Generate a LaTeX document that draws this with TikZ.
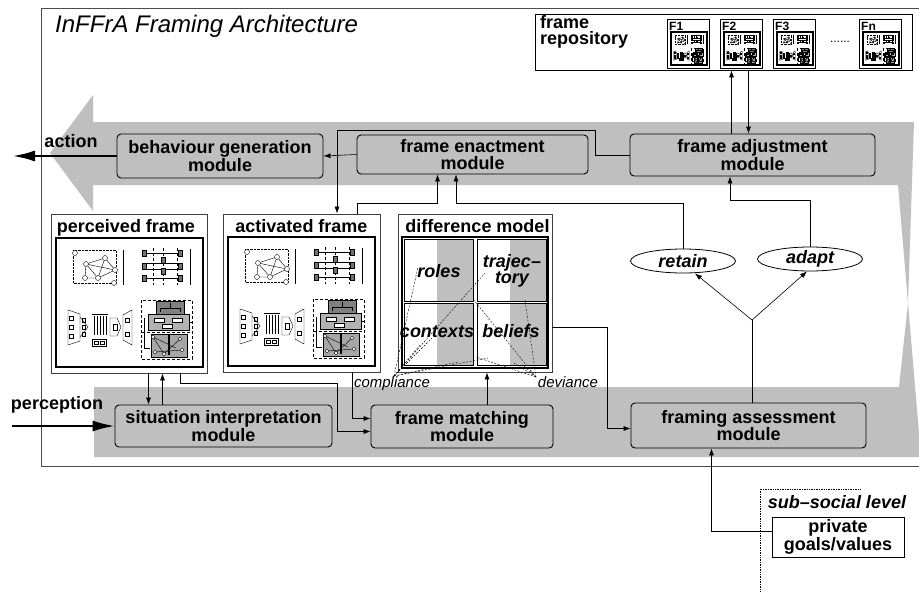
\documentclass[tikz,border=0pt]{standalone}
\usepackage{fontspec}
\setmainfont{Liberation Sans}
\usetikzlibrary{arrows.meta,shapes.geometric}

\tikzset{
  framepic/.pic={
    % network
    \draw[densely dotted] (17,12) rectangle (60,45);
    \draw (30,26) -- (49,20) -- (59,32) -- (42,40) -- (29,40) -- cycle
          (30,26) -- (59,32) (49,20) -- (42,40) (30,26) -- (42,40);
    \foreach \p in {(19,15),(30,26),(49,20),(59,32),(42,40),(29,40),(58,45)}
      \draw[fill=white] \p circle[radius=2.5];
    \draw[line width=0.8pt] (67,12) -- (67,47);
    % bars
    \draw[densely dashed] (97,10) -- (97,47) (107,10) -- (107,47) (121,10) -- (121,47);
    \draw[line width=1pt] (88,15) -- (124,15) (88,25) -- (124,25) (88,31) -- (124,31) (88,40) -- (124,40);
    \foreach \x/\y in {88/15,124/15,107/22,88/28,124/28,107/33,88/40,124/40}
      \filldraw[fill=black!55] (\x-2,\y-3) rectangle (\x+2,\y+3);
    \draw[line width=0.8pt] (134,11) -- (134,47);
    % funnel
    \draw (12,72) -- (24,76) -- (24,103) -- (12,107) -- cycle;
    \foreach \y in {80,89,98} \draw (13,\y-2) rectangle (17,\y+2);
    \draw (24,79) -- (32,89) -- (24,99);
    \foreach \y in {82,89,96} \draw (26,\y-2) rectangle (29,\y+2);
    \draw[line width=1pt] (36,76) -- (52,76);
    \foreach \x in {38,41,44,47,50} \draw (\x,78) -- (\x,97);
    \draw (54,80) -- (61,80) -- (65,89) -- (61,98) -- (54,98) -- cycle;
    \draw (57,86) rectangle (61,92);
    \draw (67,77) -- (76,72) -- (76,107) -- (67,102) -- cycle;
    \foreach \y in {82,96} \draw (69,\y-2) rectangle (73,\y+2);
    \draw (36,101) rectangle (50,108) (38,103) rectangle (42,106) (44,103) rectangle (48,106);
    % nested boxes
    \draw[densely dashed] (85,62) rectangle (136,121);
    \filldraw[fill=black!50] (100,63) rectangle (128,76);
    \filldraw[fill=black!30] (92,76) rectangle (133,92);
    \draw (114,65) -- (114,70) (104,70) -- (124,70) (104,70) -- (104,74) (124,70) -- (124,74);
    \draw[fill=white] (98,80) rectangle (108,84) (116,80) rectangle (126,84) (106,86) rectangle (116,90);
    \draw[densely dashed] (86,94) -- (135,94);
    \filldraw[fill=black!35] (95,96) rectangle (131,119);
    \draw[line width=2pt] (113,97) -- (113,117);
    \draw (97,99) -- (108,116) -- (124,101) (99,114) -- (126,112) (97,99) -- (120,110);
    \foreach \p in {(97,99),(108,116),(124,101),(99,114),(126,112)}
      \draw[fill=white] \p circle[radius=1.8];
    \draw (88,80) -- (88,110) -- (94,110) (133,84) -- (136,84);
  }
}

\begin{document}
\begin{tikzpicture}[x=1pt,y=-1pt,
    module/.style={draw,rounded corners=4pt,fill=black!25,line width=0.9pt,inner sep=0pt,
      align=center,font=\bfseries\fontsize{18}{16.5}\selectfont},
    framebox/.style={draw=black!75,line width=0.9pt,inner sep=0pt},
    lbl/.style={font=\bfseries\fontsize{18}{16.5}\selectfont,inner sep=0pt},
    cell/.style={font=\bfseries\itshape\fontsize{18}{16.5}\selectfont,inner sep=0pt,align=center},
    choice/.style={draw,ellipse,line width=0.8pt,minimum width=105pt,minimum height=24pt,inner sep=0pt,
      font=\bfseries\itshape\fontsize{18}{15}\selectfont},
    note/.style={font=\itshape\fontsize{15}{15}\selectfont,inner sep=0pt},
    conn/.style={-{Latex[length=7pt,width=5pt]},line width=0.6pt},
    bigarrow/.style={-{Latex[length=22pt,width=11pt]},line width=2pt},
    hint/.style={dash pattern=on 2pt off 1.5pt,line width=0.4pt}]
  \useasboundingbox (0,0) rectangle (919,592);
  \clip (0,0) rectangle (919,592);
  \fill[white] (0,0) rectangle (919,592);

  % flow band
  \fill[black!25] (50,153) -- (93,95) -- (93,122) -- (914,122) -- (908,303) -- (921,457)
    -- (94,457) -- (94,387) -- (899,387) -- (908,303) -- (898,185) -- (93,185) -- (93,211) -- cycle;
  \draw[black!70,line width=0.8pt] (41,8) rectangle (935,466);
  \node[font=\itshape\fontsize{24}{24}\selectfont,inner sep=0pt,anchor=base west] (title) at (55,32)
    {InFFrA Framing Architecture};

  % modules
  \node[module,minimum width=206pt,minimum height=44pt] (behave) at (220,156) {behaviour generation\\module};
  \node[module,minimum width=231pt,minimum height=39pt] (enact) at (472.5,154.5) {frame enactment\\module};
  \node[module,minimum width=245pt,minimum height=42pt] (adjust) at (752.5,155) {frame adjustment\\module};
  \node[module,minimum width=217pt,minimum height=42pt] (situation) at (223.5,426) {situation interpretation\\module};
  \node[module,minimum width=182pt,minimum height=43pt] (matching) at (462,426.5) {frame matching\\module};
  \node[module,minimum width=235pt,minimum height=45pt] (assess) at (748.5,425.5) {framing assessment\\module};

  \node[lbl,anchor=base] (actionlbl) at (71,147) {action};
  \node[lbl,anchor=base] (perceptlbl) at (57,409) {perception};
  \coordinate (actionend) at (13,156);
  \coordinate (perceptstart) at (12,426);

  % repository
  \node[draw,line width=0.8pt,minimum width=377pt,minimum height=56pt,inner sep=0pt] (repo) at (723.5,42) {};
  \node[lbl,anchor=north west,align=left] (repolbl) at (540,15) {frame\\repository};
  \foreach \x/\n in {667/1,720/2,773/3,859/n}{
    \node[draw,line width=0.8pt,minimum width=42pt,minimum height=49pt,inner sep=0pt] (f\n) at (\x+21,43.5) {};
    \node[font=\bfseries\fontsize{12}{12}\selectfont,anchor=base west,inner sep=0pt] (f\n-lbl) at (\x+2,30) {F\n};
    \draw[line width=1.2pt] (\x+4,32) rectangle (\x+40,65);
    \pic[xscale=.24,yscale=.264] at (\x+4,32) {framepic};
  }
  \node[font=\fontsize{12}{12}\selectfont,inner sep=0pt] (fdots) at (840,42) {......};

  % frames
  \node[framebox,minimum width=156pt,minimum height=159pt] (percframe) at (129,293.5) {};
  \node[lbl,anchor=base] (perctitle) at (126,232) {perceived frame};
  \draw[line width=1.6pt] (56,238) rectangle (203,367);
  \pic at (56,238) {framepic};
  \node[framebox,minimum width=157pt,minimum height=158pt] (actframe) at (301.5,293) {};
  \node[lbl,anchor=base] (acttitle) at (301.5,232) {activated frame};
  \draw[line width=1.6pt] (228,237) rectangle (375,366);
  \pic at (228,237) {framepic};

  % difference model
  \node[framebox,minimum width=154pt,minimum height=158pt] (diffframe) at (475,293) {};
  \node[lbl,anchor=base] (difftitle) at (477.5,232) {difference model};
  \draw[line width=1.6pt] (402,237) rectangle (548,368);
  \foreach \x/\y in {404/239,477/239,404/303,477/303}{
    \fill[black!25] (\x+33,\y) rectangle (\x+69,\y+62);
    \draw[line width=0.9pt] (\x,\y) rectangle (\x+69,\y+62);
  }
  \node[cell,anchor=base] (roles) at (439,277) {roles};
  \node[cell] (trajectory) at (512,271) {trajec–\\tory};
  \node[cell,anchor=base] (contexts) at (437,337) {contexts};
  \node[cell,anchor=base] (beliefs) at (511,337) {beliefs};
  \node[note,anchor=base] (compl) at (392,387) {compliance};
  \node[note,anchor=base] (devi) at (568,387) {deviance};
  \coordinate (cpl) at (394,376);
  \coordinate (dev) at (536,377);
  \foreach \p in {(418,267),(485,273),(420,345),(432,338),(458,362),(488,358)}
    \draw[hint] (cpl) -- \p;
  \foreach \p in {(473,299),(476,357),(525,300),(514,363),(524,366)}
    \draw[hint] (dev) -- \p;

  % assessment outcome
  \node[choice] (retain) at (683,261) {retain};
  \node[choice] (adapt) at (810,259) {adapt};

  % sub-social level
  \draw[densely dotted,line width=0.7pt] (760,600) |- (860,489);
  \node[lbl,font=\bfseries\itshape\fontsize{18}{15}\selectfont,anchor=base] (subsocial) at (837,508) {sub–social level};
  \node[draw,line width=0.9pt,minimum width=132pt,minimum height=40pt,inner sep=0pt,align=center,
    font=\bfseries\fontsize{18}{16.5}\selectfont] (private) at (838,537) {private\\goals/values};

  % connectors
  \coordinate (j1) at (595,130);
  \coordinate (j2) at (337,130);
  \coordinate (j3) at (357,203);
  \coordinate (j4) at (456,203);
  \coordinate (j5) at (730,200);
  \coordinate (r1) at ([xshift=-21pt]adjust.north);
  \coordinate (r2) at ([xshift=-4pt]adjust.north);
  \coordinate (s1) at ([xshift=-75pt]situation.north);
  \coordinate (s2) at ([xshift=-61pt]situation.north);
  \coordinate (m1) at ([xshift=51pt]percframe.south);
  \coordinate (m2) at ([xshift=25pt]matching.north);
  \coordinate (k1) at (337,383);
  \coordinate (k2) at (607,327);
  \coordinate (fork) at (752,320);

  \draw[bigarrow] (behave.west) -- (actionend);
  \draw[bigarrow] (perceptstart) -- (situation.west);
  \draw[conn] (enact.west) -- (behave.east);
  \draw[conn] (adjust.west) -| (j1) -- (j2) -- (j2 |- actframe.north);
  \draw[conn] (j3 |- actframe.north) -- (j3) -| ([xshift=-35pt]enact.south);
  \draw[conn] (retain.north) |- (j4) -- (j4 |- enact.south);
  \draw[conn] (adapt.north) |- (j5) -- (j5 |- adjust.south);
  \draw[conn] (r1) -- (r1 |- repo.south);
  \draw[conn] (r2 |- repo.south) -- (r2);
  \draw[conn] (s1 |- percframe.south) -- (s1);
  \draw[conn] (s2) -- (s2 |- percframe.south);
  \draw[conn] (m1) |- (k1) |- ([yshift=-5pt]matching.west);
  \draw[conn] ([xshift=51pt]actframe.south) |- ([yshift=8pt]matching.west);
  \draw[conn] (m2) -- (m2 |- diffframe.south);
  \draw[conn] (diffframe.east |- k2) -- (k2) |- ([yshift=-3pt]assess.west);
  \draw[line width=0.6pt] (fork |- assess.north) -- (fork);
  \draw[conn] (fork) -- ([xshift=12pt]retain.south);
  \draw[conn] (fork) -- ([xshift=-3pt]adapt.south);
  \draw[conn] ([yshift=6pt]private.west) -| ([xshift=-37pt]assess.south);
\end{tikzpicture}
\end{document}
